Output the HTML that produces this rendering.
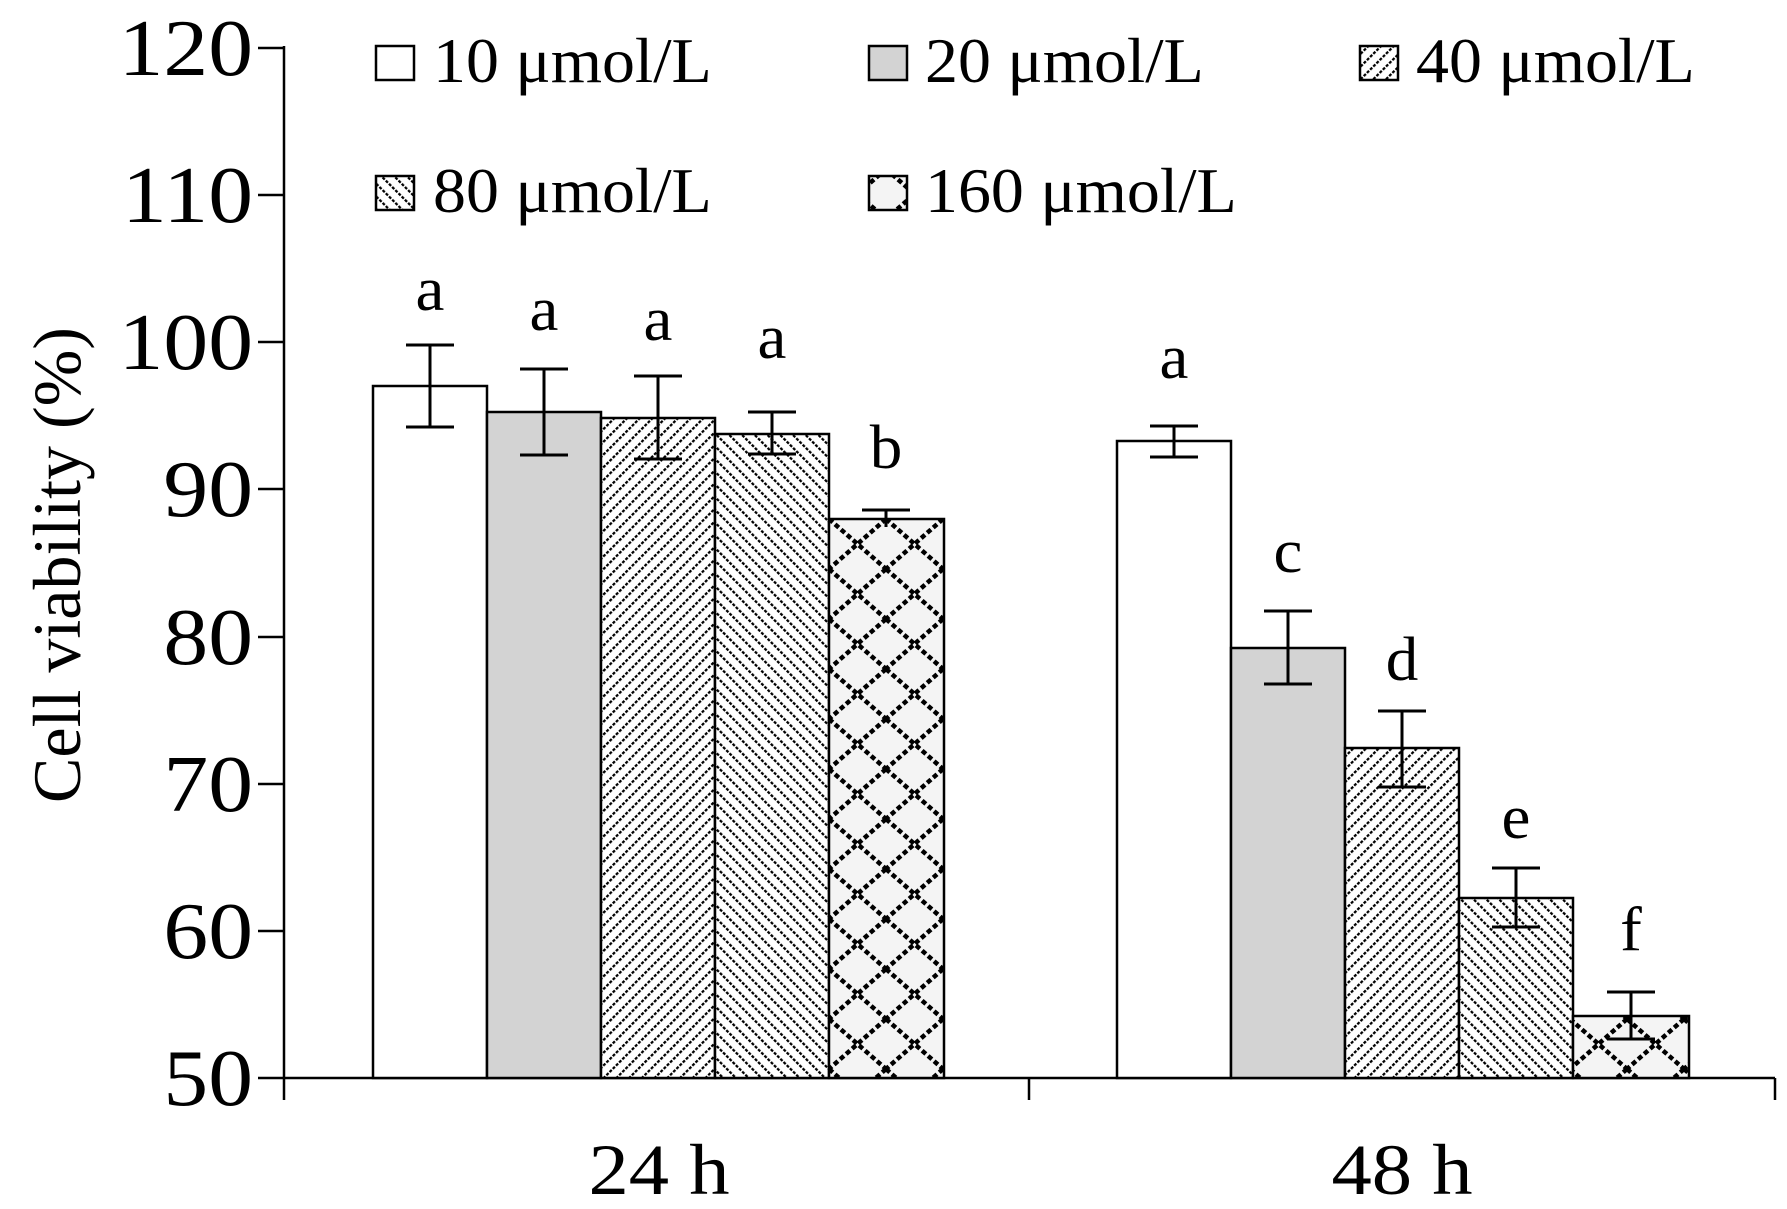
<!DOCTYPE html>
<html><head><meta charset="utf-8"><style>body{margin:0;background:#fff}svg{display:block}</style></head><body>
<svg width="1787" height="1209" viewBox="0 0 1787 1209" xmlns="http://www.w3.org/2000/svg" font-family="Liberation Serif, serif">
<defs>
<pattern id="p40" width="9" height="9" patternUnits="userSpaceOnUse" patternTransform="rotate(45)">
<rect width="9" height="9" fill="#fff"/><line x1="0" y1="0" x2="0" y2="9" stroke="#000" stroke-width="4.5" stroke-dasharray="3 1.5"/></pattern>
<pattern id="p80" width="9" height="9" patternUnits="userSpaceOnUse" patternTransform="rotate(-45)">
<rect width="9" height="9" fill="#fff"/><line x1="0" y1="0" x2="0" y2="9" stroke="#000" stroke-width="4.5" stroke-dasharray="3 1.5"/></pattern>
<pattern id="p160" width="57" height="50" patternUnits="userSpaceOnUse" x="829" y="519">
<rect width="57" height="50" fill="#f4f4f4"/><path d="M0 0L57 50M57 0L0 50" stroke="#000" stroke-width="4.5" stroke-dasharray="5 3"/></pattern>
</defs>
<g stroke="#000" stroke-width="2.5" fill="none">
<line x1="284" y1="46" x2="284" y2="1100"/>
<line x1="284" y1="1078" x2="1775" y2="1078"/>
<line x1="1029" y1="1078" x2="1029" y2="1100"/>
<line x1="1775" y1="1078" x2="1775" y2="1100"/>
<line x1="258" y1="48" x2="284" y2="48"/><line x1="258" y1="195" x2="284" y2="195"/><line x1="258" y1="342" x2="284" y2="342"/><line x1="258" y1="489" x2="284" y2="489"/><line x1="258" y1="637" x2="284" y2="637"/><line x1="258" y1="784" x2="284" y2="784"/><line x1="258" y1="931" x2="284" y2="931"/><line x1="258" y1="1078" x2="284" y2="1078"/>
</g>
<g font-size="80" text-anchor="end" fill="#000">
<text transform="translate(253 75) scale(1.12 1)">120</text>
<text transform="translate(253 222) scale(1.12 1)">110</text>
<text transform="translate(253 369) scale(1.12 1)">100</text>
<text transform="translate(253 516) scale(1.12 1)">90</text>
<text transform="translate(253 664) scale(1.12 1)">80</text>
<text transform="translate(253 811) scale(1.12 1)">70</text>
<text transform="translate(253 958) scale(1.12 1)">60</text>
<text transform="translate(253 1105) scale(1.12 1)">50</text>
</g>
<text transform="translate(80 565) rotate(-90)" font-size="68" text-anchor="middle">Cell viability (%)</text>
<text transform="translate(659 1194) scale(1.12 1)" font-size="72" text-anchor="middle">24 h</text>
<text transform="translate(1402 1194) scale(1.12 1)" font-size="72" text-anchor="middle">48 h</text>
<g stroke="#000" stroke-width="2.5">
<rect x="373" y="386" width="114" height="692" fill="#fff"/>
<rect x="487" y="412" width="114" height="666" fill="#d3d3d3"/>
<rect x="601" y="418" width="114" height="660" fill="url(#p40)"/>
<rect x="715" y="434" width="114" height="644" fill="url(#p80)"/>
<rect x="829" y="519" width="115" height="559" fill="url(#p160)"/>
<rect x="1117" y="441" width="114" height="637" fill="#fff"/>
<rect x="1231" y="648" width="114" height="430" fill="#d3d3d3"/>
<rect x="1345" y="748" width="114" height="330" fill="url(#p40)"/>
<rect x="1459" y="898" width="114" height="180" fill="url(#p80)"/>
<rect x="1573" y="1016" width="116" height="62" fill="url(#p160)"/>
</g>
<g stroke="#000" stroke-width="3" fill="none">
<path d="M430 345V427M406 345H454M406 427H454"/>
<path d="M544 369V455M520 369H568M520 455H568"/>
<path d="M658 376V459M634 376H682M634 459H682"/>
<path d="M772 412V454M748 412H796M748 454H796"/>
<path d="M886 510V527M862 510H910"/>
<path d="M1174 426V457M1150 426H1198M1150 457H1198"/>
<path d="M1288 611V684M1264 611H1312M1264 684H1312"/>
<path d="M1402 711V787M1378 711H1426M1378 787H1426"/>
<path d="M1516 868V927M1492 868H1540M1492 927H1540"/>
<path d="M1631 992V1039M1607 992H1655M1607 1039H1655"/>
</g>
<g font-size="62" text-anchor="middle">
<text transform="translate(430 310) scale(1.05 1)">a</text>
<text transform="translate(544 330) scale(1.05 1)">a</text>
<text transform="translate(658 340) scale(1.05 1)">a</text>
<text transform="translate(772 358) scale(1.05 1)">a</text>
<text transform="translate(886 468) scale(1.05 1)">b</text>
<text transform="translate(1174 378) scale(1.05 1)">a</text>
<text transform="translate(1288 572) scale(1.05 1)">c</text>
<text transform="translate(1402 680) scale(1.05 1)">d</text>
<text transform="translate(1516 838) scale(1.05 1)">e</text>
<text transform="translate(1631 950) scale(1.05 1)">f</text>
</g>
<g stroke="#000" stroke-width="2.5">
<rect x="376" y="46" width="38" height="34" fill="#fff"/>
<rect x="869" y="46" width="38" height="34" fill="#d3d3d3"/>
<rect x="1360" y="46" width="38" height="34" fill="url(#p40)"/>
<rect x="376" y="176" width="38" height="34" fill="url(#p80)"/>
<rect x="869" y="176" width="38" height="34" fill="url(#p160)"/>
</g>
<g font-size="64">
<text transform="translate(433 82) scale(1.03 1)">10 μmol/L</text>
<text transform="translate(925 82) scale(1.03 1)">20 μmol/L</text>
<text transform="translate(1416 82) scale(1.03 1)">40 μmol/L</text>
<text transform="translate(433 212) scale(1.03 1)">80 μmol/L</text>
<text transform="translate(925 212) scale(1.03 1)">160 μmol/L</text>
</g>
</svg>
</body></html>
